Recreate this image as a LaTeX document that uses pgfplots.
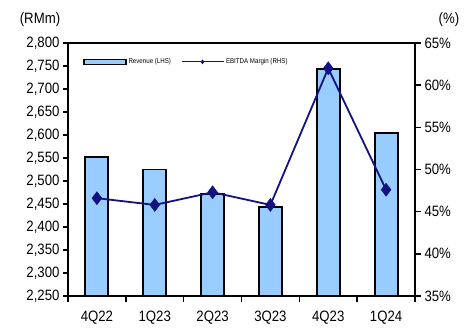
\documentclass[border=0pt]{standalone}
\usepackage{fontspec}
\setmainfont{Liberation Sans}[FakeStretch=0.88]
\usepackage{pgfplots}
\pgfplotsset{compat=1.18}
\definecolor{barblue}{RGB}{153,204,255}
\definecolor{linenavy}{RGB}{18,18,130}

% quarterly revenue (RM m) and EBITDA margin (%)
\pgfplotstableread{
idx rev margin
0 2553 46.6
1 2525 45.8
2 2471 47.3
3 2443 45.8
4 2744 62.0
5 2605 47.6
}\quarters

\begin{document}
\begin{tikzpicture}
\begin{axis}[
  name=main,
  scale only axis, width=347pt, height=253pt,
  xmin=-0.5, xmax=5.5, ymin=2250, ymax=2800,
  ytick={2250,2300,...,2800},
  ytick pos=left,
  xtick={0,...,5},
  xticklabels={4Q22,1Q23,2Q23,3Q23,4Q23,1Q24},
  major x tick style={draw=none},
  tick align=outside,
  major tick length=5pt,
  y tick style={line width=1.4pt, black},
  xticklabel style={font=\fontsize{15}{16}\selectfont, yshift=-6pt},
  axis line style={line width=1.6pt},
  yticklabel style={font=\fontsize{15}{16}\selectfont, /pgf/number format/assume math mode=true,
    /pgf/number format/1000 sep={,}},
  clip=false,
]
\addplot[ybar, bar width=23pt, fill=barblue, draw=black, line width=1.9pt]
  table[x=idx, y=rev] {\quarters};
\node[font=\fontsize{15}{16}\selectfont] at (rel axis cs:0,1) [xshift=-28pt, yshift=23pt] {(RMm)};
\node[font=\fontsize{15}{16}\selectfont] at (rel axis cs:1,1) [xshift=34pt, yshift=23pt] {(\%)};
\end{axis}
\begin{axis}[
  name=second,
  scale only axis, width=347pt, height=253pt,
  xmin=-0.5, xmax=5.5, ymin=35, ymax=65,
  ytick={35,40,...,65},
  axis y line*=right,
  % separators between the quarters along the bottom
  axis x line*=bottom,
  xtick={-0.5,0.5,1.5,2.5,3.5,4.5,5.5},
  xticklabels={},
  tick align=outside,
  major tick length=6pt,
  tick style={line width=1.4pt, black},
  axis line style={line width=1.6pt, -},
  yticklabel={\pgfmathprintnumber{\tick}\%},
  yticklabel style={font=\fontsize{15}{16}\selectfont, /pgf/number format/assume math mode=true},
  legend style={at={(0.035,0.955)}, anchor=north west, draw=none, fill=none,
    font=\fontsize{7}{8}\selectfont, legend columns=2,
    /tikz/every even column/.append style={column sep=8pt}},
]
\addlegendimage{legend image code/.code={
  \draw[fill=barblue, draw=black, line width=1.2pt] (0pt,-2.5pt) rectangle (42pt,2.5pt);}}
\addlegendentry{Revenue (LHS)}
\addplot[linenavy, line width=1.8pt, mark=diamond*, mark size=6.5pt,
  mark options={fill=linenavy, line width=0.5pt},
  legend image code/.code={
    \draw[mark repeat=2, mark phase=2, line width=1pt, mark size=2pt]
      plot coordinates {(0pt,0pt) (21pt,0pt) (42pt,0pt)};}]
  table[x=idx, y=margin] {\quarters};
\addlegendentry{EBITDA Margin (RHS)}
\end{axis}
\pgfresetboundingbox
\path ([xshift=-68pt,yshift=-34pt]main.south west) rectangle ([xshift=57pt,yshift=43pt]main.north east);
\end{tikzpicture}
\end{document}
